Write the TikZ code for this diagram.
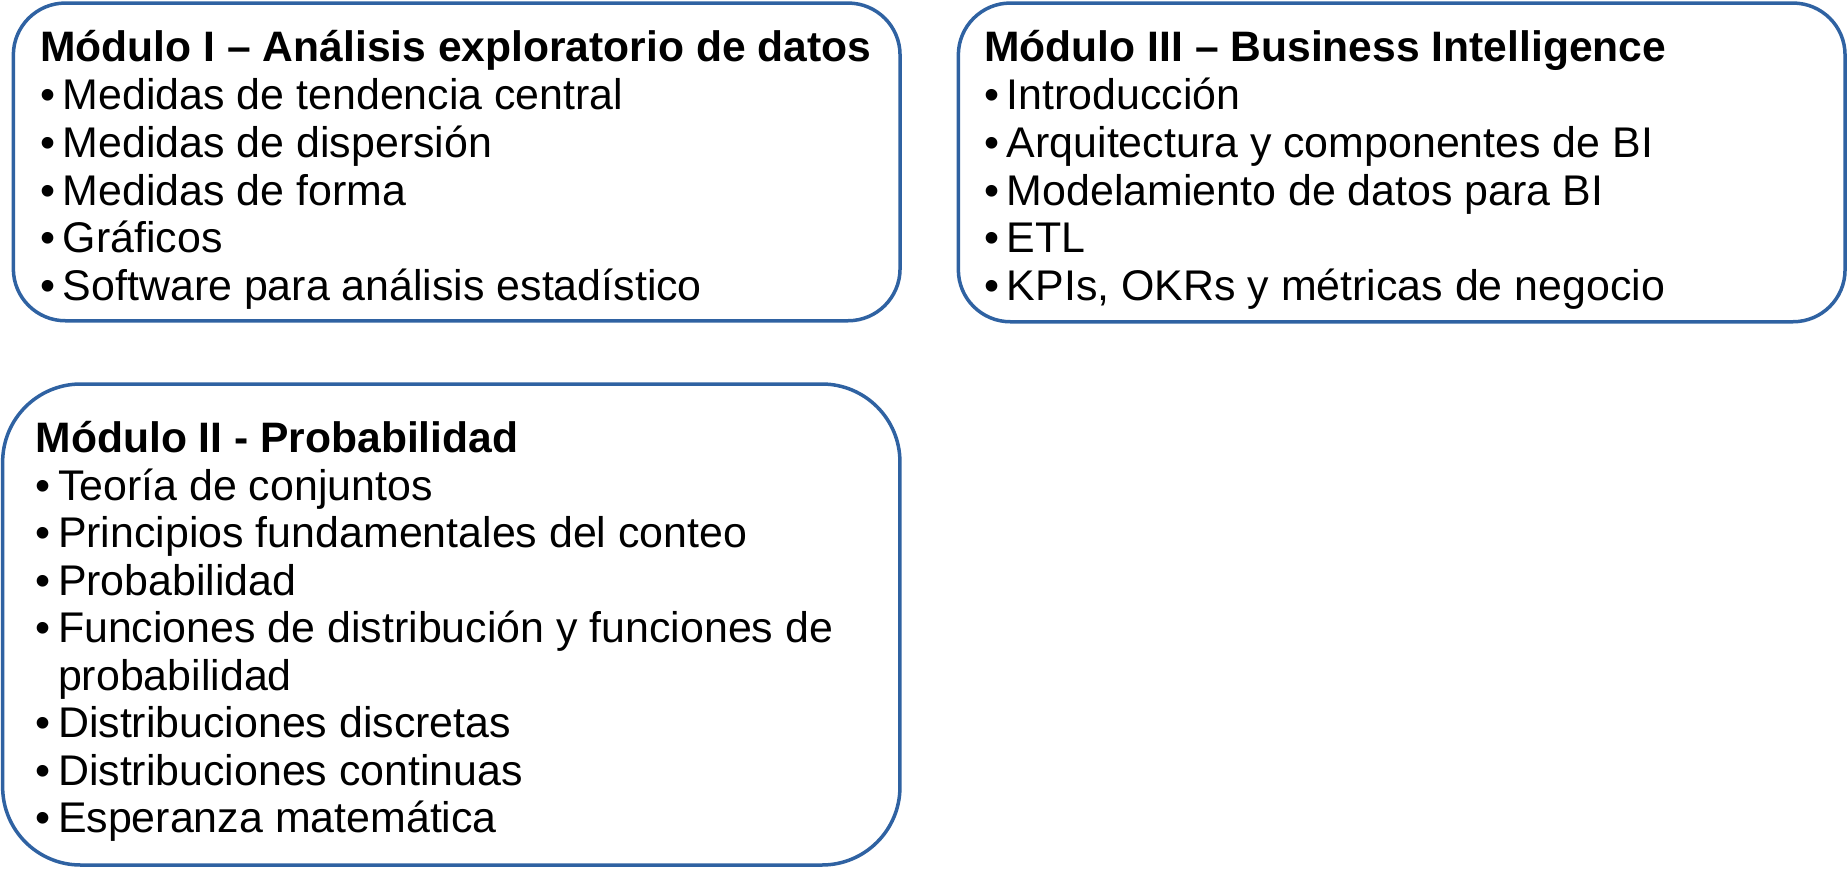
\documentclass[tikz,border=0pt]{standalone}
\usepackage{fontspec}
\setmainfont{Liberation Sans}
\definecolor{boxblue}{HTML}{2F62A2}
\begin{document}
\begin{tikzpicture}[x=1pt,y=-1pt,
  modbox/.style={draw=boxblue,line width=3.5pt,fill=white,inner sep=0pt,outer sep=0pt},
  txt/.style={anchor=base west,inner sep=0pt,outer sep=0pt,font=\fontsize{42.9}{47.6}\selectfont},
  ttl/.style={txt,font=\fontsize{42.6}{47.6}\selectfont\bfseries}]
\newcommand{\bul}{\makebox[22.5pt][l]{•}}
\useasboundingbox (0,0) rectangle (1848,868);
% boxes
\node[modbox,minimum width=886.7pt,minimum height=317.7pt,rounded corners=52pt] (m1) at (456.7,161.9) {};
\node[modbox,minimum width=886.7pt,minimum height=318.7pt,rounded corners=52pt] (m3) at (1401.7,162.4) {};
\node[modbox,minimum width=897.3pt,minimum height=481pt,rounded corners=78pt] (m2) at (451.3,624.5) {};
% Module I
\node[ttl] (t1) at (40.4,61.7) {Módulo I – Análisis exploratorio de datos};
\node[txt] (a1) at (40.4,109.5) {\bul Medidas de tendencia central};
\node[txt] (a2) at (40.4,157.3) {\bul Medidas de dispersión};
\node[txt] (a3) at (40.4,205.1) {\bul Medidas de forma};
\node[txt] (a4) at (40.4,252.9) {\bul Gráficos};
\node[txt] (a5) at (40.4,300.7) {\bul Software para análisis estadístico};
% Module III
\node[ttl] (t3) at (984.4,61.7) {Módulo III – Business Intelligence};
\node[txt] (c1) at (984.4,109.5) {\bul Introducción};
\node[txt] (c2) at (984.4,157.3) {\bul Arquitectura y componentes de BI};
\node[txt] (c3) at (984.4,205.1) {\bul Modelamiento de datos para BI};
\node[txt] (c4) at (984.4,252.9) {\bul ETL};
\node[txt] (c5) at (984.4,300.7) {\bul KPIs, OKRs y métricas de negocio};
% Module II
\node[ttl] (t2) at (35.6,452.7) {Módulo II - Probabilidad};
\node[txt] (b1) at (35.6,500.2) {\bul Teoría de conjuntos};
\node[txt] (b2) at (35.6,547.7) {\bul Principios fundamentales del conteo};
\node[txt] (b3) at (35.6,595.2) {\bul Probabilidad};
\node[txt] (b4) at (35.6,642.7) {\bul Funciones de distribución y funciones de};
\node[txt] (b4b) at (35.6,690.2) {\hspace*{22.5pt}probabilidad};
\node[txt] (b5) at (35.6,737.7) {\bul Distribuciones discretas};
\node[txt] (b6) at (35.6,785.2) {\bul Distribuciones continuas};
\node[txt] (b7) at (35.6,832.7) {\bul Esperanza matemática};
\end{tikzpicture}
\end{document}
